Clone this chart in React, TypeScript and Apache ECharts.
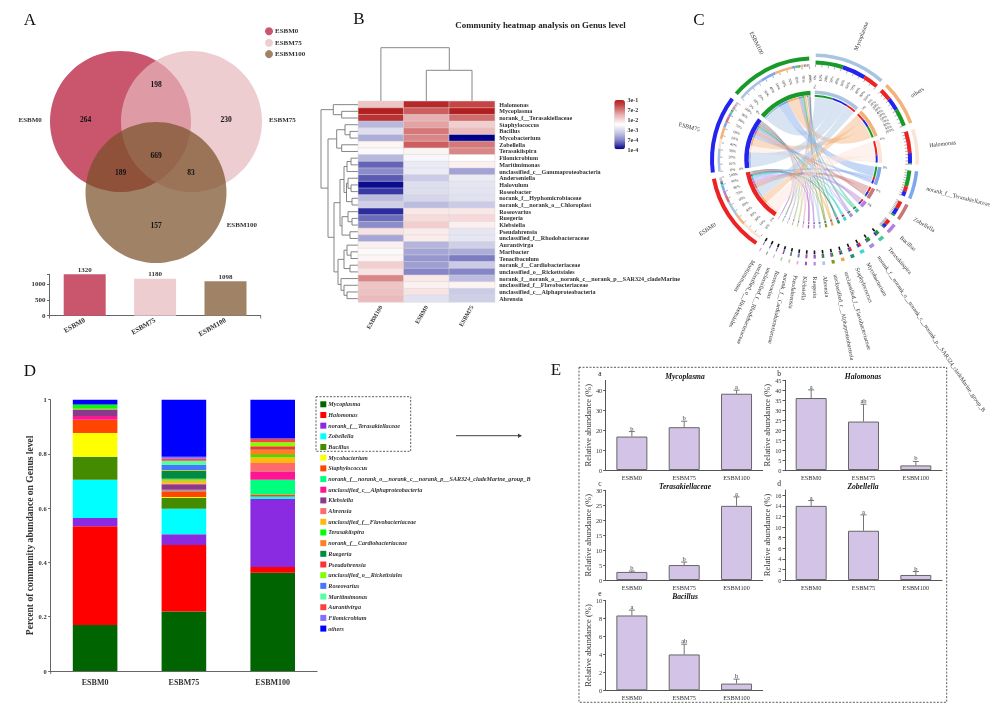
import React, { useEffect, useRef } from "react";
import * as echarts from "echarts";

const SERIF = "Liberation Serif";

// ---------- Panel A ----------
const vennSets = ["ESBM0", "ESBM75", "ESBM100"];
const vennCounts = [264, 198, 230, 669, 189, 83, 157];
const setTotals = [1320, 1180, 1098];
const setTotalTicks = [0, 500, 1000, 1320];
const setTotalTickLabels = [0, 500, 1000];

// ---------- Panel B ----------
const heatGenera = ["Halomonas", "Mycoplasma", "norank_f__Terasakiellaceae", "Staphylococcus", "Bacillus", "Mycobacterium", "Zobellella", "Terasakiispira", "Filomicrobium", "Maritimimonas", "unclassified_c__Gammaproteobacteria", "Anderseniella", "Halovulum", "Roseobacter", "norank_f__Hyphomicrobiaceae", "norank_f__norank_o__Chloroplast", "Roseovarius", "Ruegeria", "Klebsiella", "Pseudahrensia", "unclassified_f__Rhodobacteraceae", "Aurantivirga", "Maribacter", "Tenacibaculum", "norank_f__Cardiobacteriaceae", "unclassified_o__Rickettsiales", "norank_f__norank_o__norank_c__norank_p__SAR324_cladeMarine", "unclassified_f__Flavobacteriaceae", "unclassified_c__Alphaproteobacteria", "Ahrensia"];
const heatSamples = ["ESBM100", "ESBM0", "ESBM75"];
const heatEsbm100 = [0.3, 1, 0.9, -0.4, -0.2, -0.45, 0.05, -0.03, -0.4, -0.72, -0.6, -0.75, -0.97, -0.85, -0.38, -0.28, -0.88, -0.7, -0.6, 0.15, -0.48, 0.08, 0.03, 0.05, 0.25, 0.15, 0.55, 0.3, 0.32, 0.35];
const heatEsbm0 = [0.95, 0.7, 0.4, 0.45, 0.6, 0.55, 0.7, 0.06, -0.04, -0.12, -0.12, -0.3, -0.2, -0.2, -0.25, -0.38, 0.12, 0.18, 0.25, 0.1, 0.1, -0.42, -0.48, -0.55, -0.52, -0.62, 0.12, 0.07, 0.15, -0.18];
const heatEsbm75 = [0.8, 1, 0.65, 0.25, 0.35, -1, 0.6, 0.55, 0, 0.08, -0.5, -0.12, -0.15, -0.17, -0.18, -0.3, 0.12, 0.2, 0.08, -0.15, -0.15, -0.28, -0.45, -0.65, -0.3, -0.62, -0.38, 0.06, -0.3, -0.28];
const heatScaleLabels = ["3e-1", "7e-2", "1e-2", "3e-3", "7e-4", "1e-4"];
const heatColors = ["#00008b", "#4a4aae", "#8c8cca", "#b8b8de", "#dedeef", "#ffffff", "#f6d8d8", "#e8b0b0", "#d67878", "#c64444", "#b21f1f"];
type Tree = number | [number, Tree, Tree];
const rowTree: Tree = [321, [333.3, 0, [341.7, 1, 2]], [328, [336.7, [345, 3, [350, 4, 5]], [341.7, 6, 7]], [334, [340, [344, [347, [351, 8, 9], 10], [346.5, [348, 11, [351, 12, 13]], [352, 14, 15]]], [342, [348, 16, [352, 17, 18]], [350, 19, 20]]], [338, [344, [347, 21, [351, 22, 23]], [350, 24, 25]], [341, 26, [344, 27, [347, 28, 29]]]]]]];

// ---------- Panel C ----------
const chordGenera = ["Mycoplasma", "others", "Halomonas", "norank_f__Terasakiellaceae", "Zobellella", "Bacillus", "Terasakiispira", "norank_f__norank_o__norank_c__norank_p__SAR324_cladeMarine_group_B", "Mycobacterium", "Staphylococcus", "unclassified_f__Flavobacteriaceae", "unclassified_c__Alphaproteobacteria", "Ahrensia", "Ruegeria", "Klebsiella", "Pseudahrensia", "norank_f__Cardiobacteriaceae", "Roseovarius", "unclassified_f__Rhodobacteraceae", "unclassified_o__Rickettsiales", "Maritimimonas"];
const chordColors = ["#a9c4e0", "#f2b27a", "#fbe3d6", "#7ea7ec", "#c87878", "#b57ee0", "#45c99a", "#a58ae8", "#36d8d0", "#1f8f7a", "#f2a64a", "#7a9a20", "#a8c8e8", "#b48ad8", "#a050c0", "#f0b0c8", "#c8c890", "#a0d090", "#d0b0e0", "#80a080", "#c080d0"];
const chordToEsbm0 = [9, 7, 13, 3, 4.6, 3, 0.2, 0.1, 1.2, 1.1, 0.3, 0.2, 0.2, 0.4, 0.6, 0.2, 0.1, 0.3, 0.15, 0.05, 0.15];
const chordToEsbm75 = [14, 7.5, 6, 3, 3.8, 2, 0.9, 0.5, 0.9, 0.7, 0.7, 0.5, 0.4, 0.7, 0.4, 0.5, 0.4, 0.5, 0.35, 0.3, 0.25];
const chordToEsbm100 = [16.5, 10.5, 0.6, 9.5, 1, 0.5, 1.9, 2.1, 0.3, 0.3, 0.9, 1, 0.9, 0.1, 0.1, 0.3, 0.4, 0.02, 0.1, 0.25, 0.03];
const chordSampleNames = ["ESBM0", "ESBM75", "ESBM100"];
const chordSampleColors = ["#ee2222", "#2424ee", "#189a2a"];
const chordSampleOrder = [
  [2, 1, 0, 4, 5, 3, 8, 9, 14, 13, 10, 15, 17, 6, 11, 12, 18, 20, 7, 16, 19],
  [0, 2, 1, 3, 4, 5, 6, 8, 9, 10, 13, 7, 11, 15, 12, 14, 16, 17, 18, 19, 20],
  [0, 3, 1, 7, 6, 11, 12, 10, 2, 4, 5, 16, 8, 9, 15, 19, 13, 14, 18, 20, 17],
];

// ---------- Panel D ----------
const stackGenera = ["Mycoplasma", "Halomonas", "norank_f__Terasakiellaceae", "Zobellella", "Bacillus", "Mycobacterium", "Staphylococcus", "norank_f__norank_o__norank_c__norank_p__SAR324_cladeMarine_group_B", "unclassified_c__Alphaproteobacteria", "Klebsiella", "Ahrensia", "unclassified_f__Flavobacteriaceae", "Terasakiispira", "norank_f__Cardiobacteriaceae", "Ruegeria", "Pseudahrensia", "unclassified_o__Rickettsiales", "Roseovarius", "Maritimimonas", "Aurantivirga", "Filomicrobium", "others"];
const stackColors = ["#006400", "#ff0000", "#8a2be2", "#00ffff", "#458b00", "#ffff00", "#ff4500", "#00ff7f", "#ff1493", "#8b3a8b", "#ff6a6a", "#ffb90f", "#00ff00", "#ff7f24", "#008b45", "#ff3030", "#7fff00", "#4876ff", "#54ff9f", "#ff4040", "#836fff", "#0000ff"];
const stackSamples = ["ESBM0", "ESBM75", "ESBM100"];
const stackEsbm0 = [0.17, 0.364, 0.03, 0.141, 0.085, 0.087, 0.048, 0.001, 0.014, 0.024, 0.001, 0.002, 0.014, 0, 0.001, 0, 0, 0, 0, 0, 0, 0.018];
const stackEsbm75 = [0.219, 0.245, 0.04, 0.094, 0.04, 0.003, 0.022, 0.002, 0.003, 0.02, 0.003, 0.011, 0.005, 0.002, 0.028, 0.002, 0.002, 0.018, 0.016, 0.007, 0.008, 0.21];
const stackEsbm100 = [0.362, 0.021, 0.251, 0.008, 0.002, 0, 0.007, 0.054, 0.03, 0.001, 0.031, 0.022, 0.007, 0.019, 0.001, 0.012, 0.015, 0, 0, 0.012, 0.002, 0.143];

// ---------- Panel E ----------
const relSamples = ["ESBM0", "ESBM75", "ESBM100"];
const mycoplasmaMean = [16.8, 21.5, 38.3];
const mycoplasmaErr = [2.5, 3, 1.8];
const mycoplasmaSig = ["b", "b", "a"];
const mycoplasmaTicks = [0, 10, 20, 30, 40];
const halomonasMean = [36.1, 24.3, 2.3];
const halomonasErr = [4.1, 8.7, 2];
const halomonasSig = ["a", "ab", "b"];
const halomonasTicks = [0, 5, 10, 15, 20, 25, 30, 35, 40, 45];
const terasakiMean = [2.7, 5, 24.8];
const terasakiErr = [0.3, 1, 3];
const terasakiSig = ["b", "b", "a"];
const terasakiTicks = [0, 5, 10, 15, 20, 25, 30];
const zobellellaMean = [14, 9.3, 0.95];
const zobellellaErr = [1, 3, 0.65];
const zobellellaSig = ["a", "a", "b"];
const zobellellaTicks = [0, 2, 4, 6, 8, 10, 12, 14, 16];
const bacillusMean = [8.35, 4, 0.75];
const bacillusErr = [0.6, 1.15, 0.5];
const bacillusSig = ["a", "ab", "b"];
const bacillusTicks = [0, 2, 4, 6, 8, 10];

function T(text: string | number, x: number, y: number, o: any = {}) {
  return {
    type: "text", x, y, silent: true, rotation: o.rotate ? (-o.rotate * Math.PI) / 180 : 0, z: 20,
    style: { text: String(text), fontFamily: SERIF, fontSize: o.size ?? 7, fontWeight: o.weight ?? "bold", fontStyle: o.italic ? "italic" : "normal", fill: o.fill ?? "#222", align: o.align ?? "center", verticalAlign: "middle" },
  };
}
function L(x1: number, y1: number, x2: number, y2: number, stroke = "#777", w = 0.9) {
  return { type: "line", silent: true, shape: { x1, y1, x2, y2 }, style: { stroke, lineWidth: w } };
}

function buildGraphic() {
  const g: any[] = [];
  // panel letters
  [["A", 30, 19], ["B", 359, 18], ["C", 699, 19], ["D", 30, 370], ["E", 556, 369]].forEach(([s, x, y]: any) => g.push(T(s, x, y, { size: 17, weight: "normal", fill: "#111" })));
  // Venn
  const vennFill = ["rgba(179,17,48,0.71)", "rgba(231,185,190,0.71)", "rgba(121,80,39,0.71)"];
  const vennCircle = [[120.5, 121.5], [191.5, 121.5], [156, 192.5]];
  vennCircle.forEach((c, i) => g.push({ type: "circle", silent: true, shape: { cx: c[0], cy: c[1], r: 70.5 }, style: { fill: vennFill[i] } }));
  const vennCountXY = [[85.5, 119.5], [156, 84.5], [226, 119.5], [156, 155], [120.5, 172.5], [191, 172.5], [156, 225]];
  vennCounts.forEach((v, i) => g.push(T(v, vennCountXY[i][0], vennCountXY[i][1], { size: 7.5, fill: "#111" })));
  const vennNameXY = [[18.5, 119.5], [269, 119.5], [226.7, 225]];
  vennSets.forEach((s, i) => g.push(T(s, vennNameXY[i][0], vennNameXY[i][1], { align: "left", fill: "#333" })));
  const legendDot = ["#c9566c", "#eecdd1", "#a08366"];
  vennSets.forEach((s, i) => {
    const y = 31.3 + i * 11.4;
    g.push({ type: "circle", silent: true, shape: { cx: 269, cy: y, r: 4 }, style: { fill: legendDot[i] } });
    g.push(T(s, 275, y, { align: "left", fill: "#333" }));
  });
  g.push(L(49.5, 316, 49.5, 318.5, "#666"), L(260.7, 316, 260.7, 318.5, "#666"), L(50.7, 671, 50.7, 674, "#666"));

  // Panel B
  g.push(T("Community heatmap analysis on Genus level", 540.5, 25, { size: 8.9, fill: "#222" }));
  const topTree = [
    [380.9, 101, 380.9, 47.7], [380.9, 47.7, 449.3, 47.7], [449.3, 47.7, 449.3, 70.3],
    [426.3, 70.3, 472, 70.3], [426.3, 70.3, 426.3, 101], [472, 70.3, 472, 101],
  ];
  topTree.forEach((s) => g.push(L(s[0], s[1], s[2], s[3], "#888", 1)));
  const rowY = (i: number) => 101.3 + 6.69 * (i + 0.5);
  const walk = (n: Tree): [number, number] => {
    if (typeof n === "number") return [358.3, rowY(n)];
    const [x, a, b] = n;
    const pa = walk(a);
    const pb = walk(b);
    g.push(L(x, pa[1], pa[0], pa[1]), L(x, pb[1], pb[0], pb[1]), L(x, pa[1], x, pb[1]));
    return [x, (pa[1] + pb[1]) / 2];
  };
  walk(rowTree);
  heatScaleLabels.forEach((s, i) => g.push(T(s, 627.5, 100 + i * 9.9, { size: 6, align: "left", fill: "#333" })));

  // Panel D box + arrow
  g.push({ type: "rect", silent: true, shape: { x: 316, y: 396.7, width: 94.7, height: 54.6 }, style: { fill: "none", stroke: "#333", lineWidth: 0.8, lineDash: [2, 1.5] } });
  g.push(L(456, 435.7, 521, 435.7, "#444", 1));
  g.push({ type: "polygon", silent: true, shape: { points: [[522, 435.7], [518, 433.4], [518, 438]] }, style: { fill: "#444" } });
  // Panel E box
  g.push({ type: "rect", silent: true, shape: { x: 579, y: 367.3, width: 367.7, height: 335 }, style: { fill: "none", stroke: "#333", lineWidth: 0.8, lineDash: [2, 1.5] } });
  [["a", 600, 373], ["b", 779, 373], ["c", 600, 483], ["d", 779, 483], ["e", 600, 593]].forEach(([s, x, y]: any) => g.push(T(s, x, y, { size: 7.5, weight: "normal" })));
  return g;
}

function chordRender() {
  const cx = 813, cy = 159.5;
  const rad = (a: number) => ((a - 90) * Math.PI) / 180;
  const P = (r: number, a: number) => [cx + r * Math.cos(rad(a)), cy + r * Math.sin(rad(a))];
  const sampleVals = [chordToEsbm0, chordToEsbm75, chordToEsbm100];
  const genusSpans = chordGenera.map((_, i) => sampleVals.reduce((s, v) => s + v[i], 0));
  const sampleSpans = sampleVals.map((v) => v.reduce((a, b) => a + b, 0));
  const total = genusSpans.reduce((a, b) => a + b, 0) + sampleSpans.reduce((a, b) => a + b, 0);
  const gap = (360 - total) / (chordGenera.length + 3);
  const kids: any[] = [];
  const sec = (r0: number, r: number, a1: number, a2: number, fill: string) => ({ type: "sector", silent: true, shape: { cx, cy, r0, r, startAngle: rad(a1), endAngle: rad(a2) }, style: { fill, stroke: "none" } });
  const tick = (r1: number, r2: number, a: number, w = 0.4, stroke = "#333") => {
    const p = P(r1, a), q = P(r2, a);
    return { type: "line", silent: true, shape: { x1: p[0], y1: p[1], x2: q[0], y2: q[1] }, style: { stroke, lineWidth: w } };
  };
  const tinyLabel = (s: string, r: number, a: number, size = 3.8) => {
    const p = P(r, a);
    const flip = a > 180;
    return { type: "text", silent: true, x: p[0], y: p[1], rotation: (-(a - 90) * Math.PI) / 180 + (flip ? Math.PI : 0), style: { text: s, fontSize: size, fontFamily: SERIF, fill: "#333", stroke: "none", lineWidth: 0, align: "center", verticalAlign: "middle" } };
  };
  const bigLabel = (s: string, a: number, flip: boolean) => {
    const p = P(117, a);
    return { type: "text", silent: true, x: p[0], y: p[1], rotation: (-(a - 90) * Math.PI) / 180 + (flip ? Math.PI : 0), style: { text: s, fontSize: 5.9, fontFamily: SERIF, fill: "#333", stroke: "none", lineWidth: 0, align: flip ? "right" : "left", verticalAlign: "middle" } };
  };

  let a = 1.5;
  const genusArc: number[][][] = [];
  chordGenera.forEach((name, i) => {
    const span = genusSpans[i];
    const order = i === 1 ? [0, 1, 2] : [0, 1, 2].sort((x, y) => sampleVals[y][i] - sampleVals[x][i]);
    const arcs: number[][] = [[], [], []];
    let c = a;
    order.forEach((s) => {
      const v = sampleVals[s][i];
      arcs[s] = [c, c + v];
      kids.push(sec(95, 99, c, c + v, chordSampleColors[s]));
      kids.push(sec(62.7, 64.7, c, c + v, chordSampleColors[s]));
      c += v;
    });
    genusArc.push(arcs);
    kids.push(sec(102.5, 106, a, a + span, chordColors[i]));
    kids.push(sec(65.4, 69, a, a + span, chordColors[i]));
    if (span > 5) {
      for (let t = 0; t <= 10; t++) kids.push(tick(92.5, 95, a + (span * t) / 10));
      if (i < 2) for (let t = 0; t <= 10; t++) kids.push(tinyLabel(t * 10 + "%", 82, a + (span * t) / 10));
      kids.push(tinyLabel("0%", 72.5, a, 3.4));
    } else {
      kids.push(tick(91, 94.5, a + span / 2, 1.6, "#111"));
    }
    kids.push(bigLabel(name, a + span / 2, false));
    a += span + gap;
  });
  chordSampleNames.forEach((name, s) => {
    const span = sampleSpans[s];
    kids.push(sec(99, 103, a, a + span, chordSampleColors[s]));
    kids.push(sec(64.2, 68.7, a, a + span, chordSampleColors[s]));
    for (let t = 0; t <= 10; t++) {
      kids.push(tick(90.5, 93, a + (span * t) / 10));
      kids.push(tinyLabel(t * 10 + "%", 81, a + (span * t) / 10));
    }
    kids.push(tinyLabel("0%", 72.5, a, 3.4));
    kids.push(bigLabel(name, a + span / 2, true));
    let c = a;
    chordSampleOrder[s].forEach((i) => {
      const v = sampleVals[s][i];
      kids.push(sec(93, 95.5, c, c + v, chordColors[i]));
      kids.push(sec(62.2, 64.2, c, c + v, chordColors[i]));
      const ga = genusArc[i][s];
      const R = 62;
      const p1 = P(R, ga[0]), p2 = P(R, ga[1]), p3 = P(R, c), p4 = P(R, c + v);
      const d = `M${p1[0]} ${p1[1]}A${R} ${R} 0 0 1 ${p2[0]} ${p2[1]}Q${cx} ${cy} ${p3[0]} ${p3[1]}A${R} ${R} 0 0 1 ${p4[0]} ${p4[1]}Q${cx} ${cy} ${p1[0]} ${p1[1]}Z`;
      kids.unshift({ type: "path", silent: true, shape: { pathData: d }, style: { fill: chordColors[i], opacity: i < 6 ? 0.45 : 0.5, stroke: i > 5 ? chordColors[i] : "none", lineWidth: 0.3 } });
      c += v;
    });
    a += span + gap;
  });
  return { type: "group", children: kids };
}

function relPanel(title: string, mean: number[], err: number[], sig: string[], ticks: number[], max: number, left: number, top: number, height: number, nameGap: number, gi: number) {
  const grid = { left, top, width: 157, height };
  const xAxis = {
    type: "category", gridIndex: gi, data: relSamples,
    axisLine: { lineStyle: { color: "#555", width: 1 } }, axisTick: { show: false },
    axisLabel: { fontSize: 6.3, color: "#333", margin: 4, fontFamily: SERIF },
  };
  const yAxis = {
    type: "value", gridIndex: gi, min: 0, max, splitLine: { show: false },
    name: "Relative abundance (%)", nameLocation: "middle", nameGap, nameTextStyle: { fontSize: 8.6, color: "#333", fontFamily: SERIF },
    axisLine: { show: true, lineStyle: { color: "#555", width: 1 } },
    axisTick: { show: true, length: 2.5, customValues: ticks, lineStyle: { color: "#555" } },
    axisLabel: { fontSize: 6.3, color: "#333", margin: 3.5, fontFamily: SERIF, customValues: ticks },
  };
  const series = [
    { type: "bar", name: title, xAxisIndex: gi, yAxisIndex: gi, data: mean, barWidth: 31, itemStyle: { color: "#d3c4e7", borderColor: "#666", borderWidth: 1 } },
    {
      type: "custom", xAxisIndex: gi, yAxisIndex: gi, clip: false, z: 5, data: mean.map((m, i) => [i, m, err[i]]),
      renderItem: (p: any, api: any) => {
        const i = api.value(0), m = api.value(1), e = api.value(2);
        const a = api.coord([i, m]), b = api.coord([i, m + e]);
        return {
          type: "group", children: [
            { type: "line", shape: { x1: a[0], y1: a[1], x2: b[0], y2: b[1] }, style: { stroke: "#666", lineWidth: 0.9 } },
            { type: "line", shape: { x1: b[0] - 3, y1: b[1], x2: b[0] + 3, y2: b[1] }, style: { stroke: "#666", lineWidth: 0.9 } },
            { type: "text", x: b[0], y: b[1] - 3.5, style: { text: sig[p.dataIndex], fontSize: 6.5, fontFamily: SERIF, fill: "#333", stroke: "none", lineWidth: 0, align: "center", verticalAlign: "middle" } },
          ],
        };
      },
    },
  ];
  return { grid, xAxis, yAxis, series };
}

export default function App() {
  const ref = useRef<HTMLDivElement>(null);
  useEffect(() => {
    document.body.style.margin = "0";
    const chart = echarts.init(ref.current!, undefined, { renderer: "svg" });

    const grids: any[] = [], xAxes: any[] = [], yAxes: any[] = [], series: any[] = [];
    // A small bars
    grids.push({ left: 49.5, top: 274.3, width: 211.2, height: 41.4 });
    xAxes.push({
      type: "category", gridIndex: 0, data: vennSets,
      axisLine: { lineStyle: { color: "#666", width: 1 } }, axisTick: { alignWithLabel: true, length: 2.5, lineStyle: { color: "#666" } },
      axisLabel: { rotate: 30, fontSize: 7, fontWeight: "bold", color: "#333", margin: 4, fontFamily: SERIF, interval: 0 },
    });
    yAxes.push({
      type: "value", gridIndex: 0, min: 0, max: 1320, splitLine: { show: false },
      axisLine: { show: true, lineStyle: { color: "#666", width: 1 } },
      axisTick: { show: true, length: 2.5, customValues: setTotalTicks, lineStyle: { color: "#666" } },
      axisLabel: { fontSize: 7, fontWeight: "bold", color: "#333", margin: 4, fontFamily: SERIF, customValues: setTotalTickLabels, formatter: (v: number) => String(v) },
    });
    series.push({
      type: "bar", xAxisIndex: 0, yAxisIndex: 0, barWidth: 42,
      data: setTotals.map((v, i) => ({ value: v, itemStyle: { color: ["#c9566c", "#eecdd1", "#a08366"][i] } })),
      label: { show: true, position: "top", distance: 1, fontSize: 7, fontWeight: "bold", color: "#333", fontFamily: SERIF },
    });

    // B heatmap
    grids.push({ left: 358.3, top: 101.3, width: 136.4, height: 200.7 });
    xAxes.push({
      type: "category", gridIndex: 1, data: heatSamples, axisLine: { show: false }, axisTick: { show: false }, splitArea: { show: false },
      axisLabel: { rotate: 60, fontSize: 6, fontWeight: "bold", color: "#333", margin: 4, fontFamily: SERIF, interval: 0 },
    });
    yAxes.push({
      type: "category", gridIndex: 1, data: heatGenera, inverse: true, position: "right", axisLine: { show: false }, axisTick: { show: false }, splitArea: { show: false },
      axisLabel: { fontSize: 6.1, fontWeight: "bold", color: "#333", margin: 4.5, fontFamily: SERIF, interval: 0 },
    });
    const heatIdx = series.length;
    const heatData: number[][] = [];
    [heatEsbm100, heatEsbm0, heatEsbm75].forEach((col, x) => col.forEach((v, y) => heatData.push([x, y, v])));
    series.push({ type: "heatmap", xAxisIndex: 1, yAxisIndex: 1, data: heatData, itemStyle: { borderColor: "#d8d8d8", borderWidth: 0.5 } });

    // D stacked bars
    grids.push({ left: 50.7, top: 399.7, width: 266.4, height: 271.3 });
    xAxes.push({
      type: "category", gridIndex: 2, data: stackSamples,
      axisLine: { lineStyle: { color: "#666", width: 1 } }, axisTick: { alignWithLabel: true, length: 3, lineStyle: { color: "#666" } },
      axisLabel: { fontSize: 8, fontWeight: "bold", color: "#333", margin: 7, fontFamily: SERIF },
    });
    yAxes.push({
      type: "value", gridIndex: 2, min: 0, max: 1, interval: 0.2, splitLine: { show: false },
      name: "Percent of community abundance on Genus level", nameLocation: "middle", nameGap: 16, nameTextStyle: { fontSize: 9.6, fontWeight: "bold", color: "#333", fontFamily: SERIF },
      axisLine: { show: true, lineStyle: { color: "#666", width: 1 } }, axisTick: { show: true, length: 2.5, lineStyle: { color: "#666" } },
      axisLabel: { fontSize: 6.5, fontWeight: "bold", color: "#333", margin: 4, fontFamily: SERIF },
    });
    stackGenera.forEach((name, i) => {
      series.push({ type: "bar", name, stack: "genus", xAxisIndex: 2, yAxisIndex: 2, barWidth: 44.6, itemStyle: { color: stackColors[i] }, data: [stackEsbm0[i], stackEsbm75[i], stackEsbm100[i]] });
    });

    // E panels
    const panels = [
      relPanel("Mycoplasma", mycoplasmaMean, mycoplasmaErr, mycoplasmaSig, mycoplasmaTicks, 45, 605.7, 380.4, 89.6, 11, 3),
      relPanel("Halomonas", halomonasMean, halomonasErr, halomonasSig, halomonasTicks, 45, 785, 380.3, 89.7, 12, 4),
      relPanel("Terasakiellaceae", terasakiMean, terasakiErr, terasakiSig, terasakiTicks, 30, 605.7, 490.3, 89.7, 11, 5),
      relPanel("Zobellella", zobellellaMean, zobellellaErr, zobellellaSig, zobellellaTicks, 17, 785, 490, 90, 12, 6),
      relPanel("Bacillus", bacillusMean, bacillusErr, bacillusSig, bacillusTicks, 10, 605.7, 600.7, 89.6, 11, 7),
    ];
    panels.forEach((p) => { grids.push(p.grid); xAxes.push(p.xAxis); yAxes.push(p.yAxis); series.push(...p.series); });

    // C chord
    series.push({ type: "custom", coordinateSystem: "none", silent: true, data: [[0]], renderItem: () => chordRender() });

    const panelTitles = [["Mycoplasma", 685, 376.7], ["Halomonas", 863, 376.7], ["Terasakiellaceae", 685, 486.3], ["Zobellella", 863, 486.3], ["Bacillus", 685, 596.7]];
    const graphicEls = buildGraphic();
    panelTitles.forEach(([s, x, y]: any) => graphicEls.push(T(s, x, y, { size: 7.6, italic: true, fill: "#111" })));

    chart.setOption({
      animation: false,
      textStyle: { fontFamily: SERIF },
      tooltip: { show: false },
      grid: grids,
      xAxis: xAxes,
      yAxis: yAxes,
      series,
      visualMap: {
        type: "continuous", seriesIndex: heatIdx, min: -1, max: 1, left: 614.3, top: 100, itemWidth: 10.7, itemHeight: 49.3, padding: 0,
        text: ["", ""], showLabel: false, calculable: false, hoverLink: false, inRange: { color: heatColors },
      },
      legend: {
        show: true, orient: "vertical", left: 320.3, top: 401.3, padding: 0, itemWidth: 6, itemHeight: 6, itemGap: 4.68, selectedMode: false,
        data: stackGenera.map((name) => ({ name, icon: "rect" })),
        textStyle: { fontSize: 6.14, fontWeight: "bold", fontStyle: "italic", color: "#333", fontFamily: SERIF, padding: [0, 0, 0, -3] },
      },
      graphic: { elements: graphicEls },
    });
    return () => chart.dispose();
  }, []);
  return <div ref={ref} style={{ position: "absolute", left: 0, top: 0, width: 1000, height: 715, willChange: "transform" }} />;
}
